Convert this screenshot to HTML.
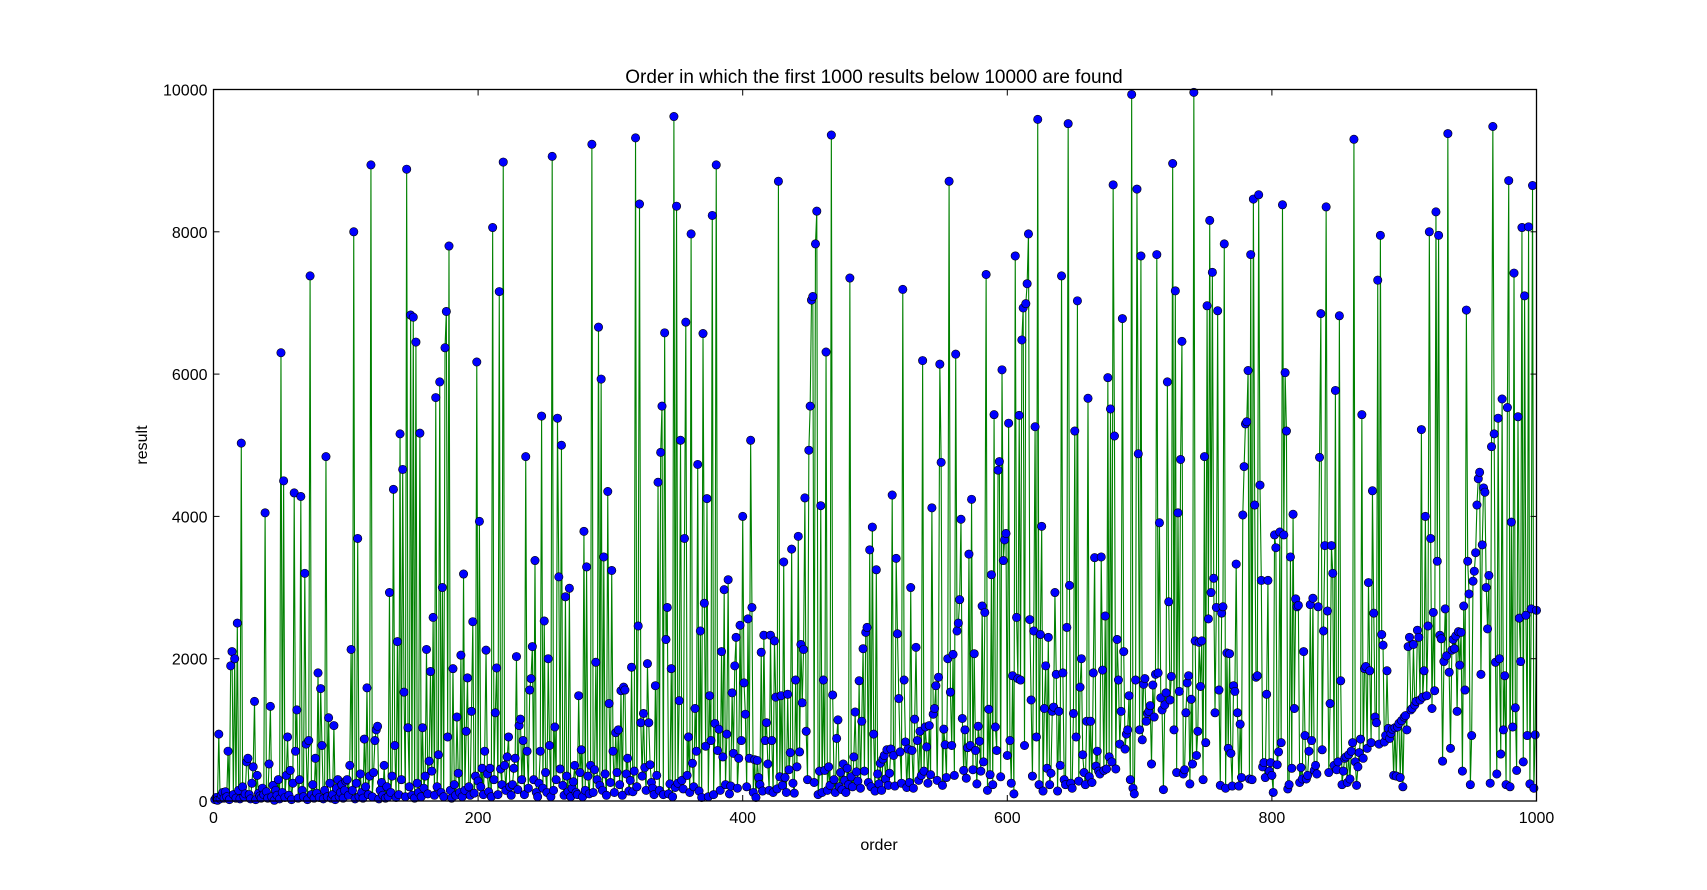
<!DOCTYPE html>
<html><head><meta charset="utf-8"><style>
html,body{margin:0;padding:0;background:#fff;}
svg{display:block;font-family:"Liberation Sans","DejaVu Sans",sans-serif;}
</style></head><body>
<svg id="chart" width="1707" height="890" viewBox="0 0 1707 890" xmlns="http://www.w3.org/2000/svg">
<rect width="1707" height="890" fill="#fff"/>
<text x="874" y="83" font-size="19" text-anchor="middle">Order in which the first 1000 results below 10000 are found</text>
<text x="879" y="850" font-size="16" text-anchor="middle">order</text>
<text x="147" y="445" font-size="16" text-anchor="middle" transform="rotate(-90 147 445)">result</text>
<g id="plot"></g>
<g id="axes"></g>
</svg>
<script>
const xTicks=[0,200,400,600,800,1000];
const yTicks=[0,2000,4000,6000,8000,10000];
const results=[
20,50,10,940,30,80,120,40,130,60,700,20,1900,2100,90,2000,40,2500,150,30,
5030,200,60,100,550,600,90,30,250,480,1400,20,360,110,70,40,180,90,4050,130,
40,520,1330,60,220,10,150,80,300,30,6300,120,4500,50,360,900,80,430,20,250,
4330,700,1280,40,300,4280,150,60,3200,800,20,850,7380,90,230,40,600,110,1800,50,
1580,780,30,150,4840,60,1170,250,40,90,1060,20,180,300,60,120,230,40,150,280,
300,80,500,2130,150,8000,30,250,3690,60,380,120,40,870,200,1590,90,350,8940,60,
400,850,1000,1050,30,150,260,80,500,40,200,60,2930,120,350,4380,780,50,2240,90,
5160,300,4660,1530,60,8880,1030,200,6830,80,6800,40,6450,250,120,5170,60,1030,180,350,
2130,100,560,1820,420,2580,80,5670,200,650,5890,120,3000,60,6370,6880,900,7800,150,40,
1860,230,80,1180,390,120,2050,60,3190,150,980,1730,200,80,1260,2520,110,350,6170,280,
3930,200,460,90,700,2120,380,130,460,60,8060,300,1240,1870,90,7160,450,230,8980,500,
150,620,900,200,80,230,460,600,2030,160,1060,1150,300,850,90,4840,700,180,1560,1720,
2170,300,3380,120,60,250,700,5410,180,2530,400,120,2000,780,60,9060,150,1040,300,5380,
3150,450,5000,220,80,2870,350,130,2990,60,180,270,500,120,90,1480,400,720,60,3790,
150,3290,350,100,500,9230,120,440,1950,300,6660,220,5930,150,3430,380,80,4350,1370,260,
3240,700,120,960,400,1000,230,1550,80,1600,1560,380,600,140,290,1880,130,420,9320,200,
2460,8390,1100,350,1230,470,150,1930,1100,510,260,180,90,1620,360,4480,150,4900,5550,90,
6580,2270,2720,100,240,1860,60,9620,190,8360,250,1410,5070,290,170,3690,6730,360,900,120,
7970,530,200,1300,700,4730,140,2390,50,6570,2780,770,4250,60,1480,850,8230,90,1090,8940,
710,1010,150,2100,620,2970,230,940,3110,100,210,1520,670,1900,2300,180,600,2470,850,4000,
1660,1220,200,2560,600,5070,2720,120,580,50,570,330,230,2090,140,2330,850,1100,520,150,
2330,850,120,2250,1460,170,8710,340,1480,220,3360,330,120,1500,440,680,3540,250,110,1700,
480,3720,690,2200,1380,2130,4260,980,300,4930,5550,7040,7090,260,7830,8290,90,420,4150,120,
1700,430,6310,150,480,220,9360,1490,300,120,880,1140,200,400,160,520,290,120,460,230,
7350,340,200,620,1250,410,280,1690,180,1120,2140,420,2370,2440,260,3530,200,3850,940,140,
3250,380,240,530,150,590,640,310,720,220,390,730,4300,640,210,3410,2350,1440,690,250,
7190,1700,830,190,730,260,3000,710,180,1150,2160,850,290,980,360,6190,420,1040,760,250,
1060,370,4120,1220,1300,1620,290,1740,6140,4760,220,1010,790,330,2000,8710,1530,780,2060,360,
6280,2390,2500,2830,3960,1160,430,1000,320,750,3470,780,4240,440,2070,710,240,1050,840,420,
2740,550,2650,7400,150,1290,370,3180,230,5430,1040,710,4650,4770,340,6060,3380,3670,3760,640,
5310,850,250,1760,100,7660,2580,1720,5420,1700,6480,6930,780,6990,7270,7970,2550,1420,350,2390,
5260,900,9580,230,2340,3860,140,1300,1900,460,2300,230,390,1260,1320,2930,1780,140,1260,500,
7380,1800,300,230,2440,9520,3030,250,180,1230,5200,900,7030,280,1600,2000,650,400,230,1120,
5660,340,1120,260,1800,3420,490,700,420,380,3430,1840,430,2600,450,5950,620,5510,550,8660,
5130,450,2270,1700,800,1260,6780,2100,730,940,1000,1480,300,9930,180,100,1700,8600,4880,1000,
7660,860,1640,1720,1120,1230,1260,1340,520,1630,1180,1780,7680,1800,3910,1450,1280,160,1350,1520,
5890,2800,1420,1750,8960,1000,7170,400,4050,1540,4800,6460,380,440,1240,1660,1760,240,1430,520,
9960,2250,640,980,2230,1610,2250,300,4840,820,6960,2560,8160,2930,7430,3130,1240,2720,6890,1560,
220,2640,2730,7830,180,2080,740,2070,670,210,1620,1540,3330,1240,210,1080,330,4020,4700,5300,
5330,6050,310,7680,300,8460,4160,1740,1760,8520,4440,3100,480,540,330,1500,3100,420,540,360,
120,3740,3560,510,690,3780,820,8380,3740,6020,5200,170,230,3430,460,4030,1300,2840,2730,2750,
260,470,310,2100,920,310,360,700,2760,850,2850,430,500,380,2730,4830,6850,720,2390,3590,
8350,2670,400,1370,3590,3200,500,5770,440,550,6820,1690,230,420,600,620,260,650,310,700,
820,9300,550,220,480,680,870,5430,600,1860,1890,740,3070,1830,820,4360,2640,1180,1100,7320,
800,7950,2340,2190,830,920,1830,1020,880,950,1010,360,1030,350,1040,1090,330,1130,200,1180,
1200,1000,2170,2300,1280,1300,2200,1350,1400,2400,2300,1420,5220,1460,1830,4000,1480,2460,8000,3690,
1300,2650,1550,8280,3370,7950,2330,2280,560,1960,2700,2040,9380,1810,740,2120,2270,2140,2320,1260,
2380,1910,2370,420,2740,1560,6900,3370,2910,230,920,3090,3230,3490,4160,4530,4620,1780,3600,4400,
4340,3000,2420,3170,250,4980,9480,5160,1950,380,5380,2000,660,5650,1000,1760,230,5530,8720,200,
3920,1040,7420,1310,430,5400,2570,1960,8060,550,7100,2610,920,8070,240,2700,8650,180,930,2680
];
const L=213.5,R=1536.5,T=89.5,B=801;
const xs=v=>L+(v-0)/(1000-0)*(R-L);
const ys=v=>B-(v-0)/(10000-0)*(B-T);
const NS="http://www.w3.org/2000/svg";
const plot=document.getElementById('plot');
const axes=document.getElementById('axes');
const line=document.createElementNS(NS,'polyline');


line.setAttribute('points',results.map((v,i)=>xs(i+1).toFixed(2)+','+ys(v).toFixed(2)).join(' '));
line.setAttribute('fill','none');
line.setAttribute('stroke','#008000');
line.setAttribute('stroke-width','1.1');
plot.appendChild(line);
const mg=document.createElementNS(NS,'g');


plot.appendChild(mg);
results.forEach((v,i)=>{
  const c=document.createElementNS(NS,'circle');
  
  
  c.setAttribute('cx',xs(i+1).toFixed(2));
  c.setAttribute('cy',ys(v).toFixed(2));
  c.setAttribute('r','4.2');
  c.setAttribute('fill','#0000ff');
  c.setAttribute('stroke','#000');
  c.setAttribute('stroke-width','0.6');
  mg.appendChild(c);
});
const frame=document.createElementNS(NS,'rect');


frame.setAttribute('x',L);frame.setAttribute('y',T);
frame.setAttribute('width',R-L);frame.setAttribute('height',B-T);
frame.setAttribute('fill','none');frame.setAttribute('stroke','#000');frame.setAttribute('stroke-width','1.3');
axes.appendChild(frame);
function ln(x1,y1,x2,y2){
  const l=document.createElementNS(NS,'line');
  l.setAttribute('x1',x1);l.setAttribute('y1',y1);l.setAttribute('x2',x2);l.setAttribute('y2',y2);
  l.setAttribute('stroke','#000');l.setAttribute('stroke-width','1');
  return l;
}
xTicks.forEach(t=>{
  const x=xs(t);
  const a=ln(x,B,x,B-6);
  
  
  axes.appendChild(a);
  const b=ln(x,T,x,T+6);
  
  
  axes.appendChild(b);
  const tx=document.createElementNS(NS,'text');
  
  
  tx.setAttribute('x',x);tx.setAttribute('y',B+22);
  tx.setAttribute('font-size','16');tx.setAttribute('text-anchor','middle');
  tx.textContent=t;
  axes.appendChild(tx);
});
yTicks.forEach(t=>{
  const y=ys(t);
  const a=ln(L,y,L+6,y);
  
  
  axes.appendChild(a);
  const b=ln(R,y,R-6,y);
  
  
  axes.appendChild(b);
  const tx=document.createElementNS(NS,'text');
  
  
  tx.setAttribute('x',L-6);tx.setAttribute('y',y+6);
  tx.setAttribute('font-size','16');tx.setAttribute('text-anchor','end');
  tx.textContent=t;
  axes.appendChild(tx);
});
</script>
</body></html>
